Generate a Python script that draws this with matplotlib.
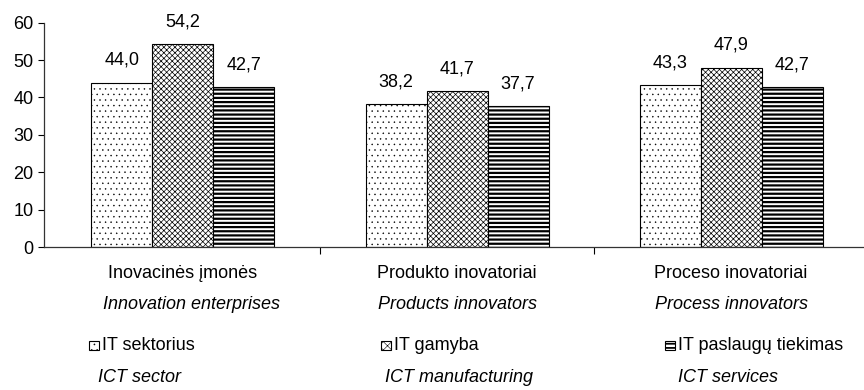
import matplotlib
matplotlib.use("Agg")
import matplotlib.pyplot as plt
from matplotlib.patches import Rectangle
import numpy as np

plt.rcParams["font.family"] = ["Liberation Sans", "DejaVu Sans"]
plt.rcParams["font.size"] = 13

# Données
categories_lt = ["Inovacinės įmonės", "Produkto inovatoriai", "Proceso inovatoriai"]
categories_en = ["Innovation enterprises", "Products innovators", "Process innovators"]
series_lt = ["IT sektorius", "IT gamyba", "IT paslaugų tiekimas"]
series_en = ["ICT sector", "ICT manufacturing", "ICT services"]
it_sektorius = [44.0, 38.2, 43.3]
it_gamyba = [54.2, 41.7, 47.9]
it_paslaugos = [42.7, 37.7, 42.7]

valeurs = [it_sektorius, it_gamyba, it_paslaugos]
hachures = ["...", "xxxxxx", "----"]
hatch_lw = [0.3, 0.5, 1.6]
hatch_col = ["#666666", "black", "black"]

W, H = 864, 390
fig = plt.figure(figsize=(W / 100, H / 100), dpi=100)
ax = fig.add_axes([44 / W, 1 - 247 / H, (W - 44) / W, (247 - 22.7) / H])

x = np.arange(len(categories_lt))
largeur = 0.2226
for i, (vals, h) in enumerate(zip(valeurs, hachures)):
    with plt.rc_context({"hatch.linewidth": hatch_lw[i], "hatch.color": hatch_col[i]}):
        barres = ax.bar(x + (i - 1) * largeur, vals, largeur, color="white",
                        edgecolor="black", linewidth=0.8, hatch=h)
    for b, v in zip(barres, vals):
        ax.annotate(f"{v:.1f}".replace(".", ","),
                    (b.get_x() + b.get_width() / 2, v),
                    xytext=(0, 13), textcoords="offset points",
                    ha="center", va="baseline")

ax.set_xlim(-0.507, 2.485)
ax.set_ylim(0, 60)
ax.set_yticks(range(0, 61, 10))
ax.set_xticks([0.5, 1.5])
ax.set_xticklabels([])
ax.tick_params(axis="y", length=4, width=0.8, pad=3.5)
ax.tick_params(axis="x", length=5, width=0.8)
for s in ["top", "right"]:
    ax.spines[s].set_visible(False)
for s in ["left", "bottom"]:
    ax.spines[s].set_linewidth(0.9)
    ax.spines[s].set_color("#333333")

# Libellés des catégories (LT + EN)
decal_en = [0.03, 0, 0]
for i in range(len(categories_lt)):
    ax.text(i, -26 / 3.733, categories_lt[i], ha="center", va="center")
    ax.text(i + decal_en[i], -57 / 3.733, categories_en[i], ha="center",
            va="center", style="italic")

# Légende manuelle
pos_carre = [89, 381, 665]
pos_en = [140, 459, 728]
for i in range(3):
    with plt.rc_context({"hatch.linewidth": max(hatch_lw[i], 0.5) * 0.8,
                         "hatch.color": hatch_col[i]}):
        r = Rectangle((pos_carre[i] / W, 1 - 350 / H), 9.5 / W, 9.5 / H,
                      transform=fig.transFigure, facecolor="white",
                      edgecolor="black", linewidth=0.8,
                      hatch=hachures[i][:4])
    fig.add_artist(r)
    fig.text((pos_carre[i] + 13) / W, 1 - 345 / H, series_lt[i],
             ha="left", va="center")
    fig.text(pos_en[i] / W, 1 - 378 / H, series_en[i],
             ha="center", va="center", style="italic")

fig.savefig("out.png", dpi=100)
